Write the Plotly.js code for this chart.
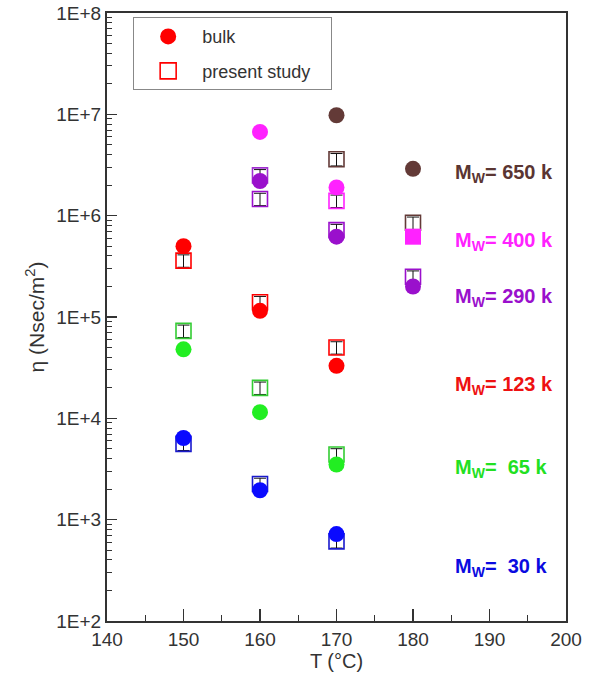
<!DOCTYPE html>
<html>
<head>
<meta charset="utf-8">
<script src="https://cdn.plot.ly/plotly-3.0.1.min.js"></script>
<style>html,body{margin:0;padding:0;background:#fff;}#chart{width:595px;height:676px;}</style>
</head>
<body>
<div id="chart"></div>
<script>
// Temperatures (°C)
const T = [150, 160, 170, 180];

// Viscosity (Nsec/m^2); null = no point
const bulk650 = [null, null, 9.8e6, 2.9e6];
const study650 = [null, null, 3.6e6, 8.5e5];
const bulk400 = [null, 6.7e6, 1.9e6, 6.2e5];
const study400 = [null, 2.5e6, 1.4e6, null];
const bulk290 = [null, 2.2e6, 6.2e5, 2.0e5];
const study290 = [null, 1.46e6, 7.2e5, 2.5e5];
const bulk123 = [5.0e5, 1.15e5, 3.3e4, null];
const study123 = [3.6e5, 1.4e5, 5.0e4, null];
const bulk65 = [4.8e4, 1.15e4, 3.5e3, null];
const study65 = [7.3e4, 2.0e4, 4.4e3, null];
const bulk30 = [6.4e3, 1.95e3, 7.2e2, null];
const study30 = [5.6e3, 2.25e3, 6.1e2, null];

const seriesLabels = ['650 k', '400 k', '290 k', '123 k', ' 65 k', ' 30 k'];
const labelY = [2.6e6, 5.6e5, 1.55e5, 2.1e4, 3.2e3, 3.4e2];

const yTickVals = [1e2, 1e3, 1e4, 1e5, 1e6, 1e7, 1e8];
const yTickText = ['1E+2', '1E+3', '1E+4', '1E+5', '1E+6', '1E+7', '1E+8'];

const cBrown = '#633a37', cMag = '#ff22ff', cPur = '#9a10cc', cRed = '#ff0000', cGreen = '#22ee22', cBlue = '#0a0aff';
const labelColors = ['#5a3532', '#ff22ff', '#9a10cc', '#ee1111', '#22e022', '#0a0ae0'];

function studyTrace(y, color, lineColors) {
  return {
    x: T, y: y, type: 'scatter', mode: 'markers', showlegend: false, hoverinfo: 'x+y',
    marker: {symbol: 'square-open', size: 15, color: lineColors || color, line: {width: 1.6, color: lineColors || color}},
    error_y: {type: 'percent', value: 14, color: '#111', thickness: 1, width: 6}
  };
}
function bulkTrace(y, color, symbols) {
  return {
    x: T, y: y, type: 'scatter', mode: 'markers', showlegend: false, hoverinfo: 'x+y',
    marker: {symbol: symbols || 'circle', size: 16, color: color, line: {width: 0}}
  };
}

const traces = [
  studyTrace(study650, cBrown),
  studyTrace(study400, cMag, [cMag, '#a030d0', cMag, cMag]),
  studyTrace(study290, cPur),
  studyTrace(study123, cRed),
  studyTrace(study65, '#33cc33'),
  studyTrace(study30, '#1a1acc'),
  bulkTrace(bulk650, cBrown),
  bulkTrace(bulk400, cMag, ['circle', 'circle', 'circle', 'square']),
  bulkTrace(bulk290, cPur),
  bulkTrace(bulk123, cRed),
  bulkTrace(bulk65, cGreen),
  bulkTrace(bulk30, cBlue),
  // legend entries
  {x: [null], y: [null], type: 'scatter', mode: 'markers', name: 'bulk', legendgroup: 'a',
   marker: {symbol: 'circle', size: 19, color: cRed}},
  {x: [null], y: [null], type: 'scatter', mode: 'markers', name: 'present study\u00a0\u00a0\u00a0', legendgroup: 'b',
   marker: {symbol: 'square-open', size: 18, color: cRed, line: {width: 1.6, color: cRed}}}
];

const annotations = seriesLabels.map((s, i) => ({
  x: 185.2, y: Math.log10(labelY[i]), xref: 'x', yref: 'y', xanchor: 'left', yanchor: 'middle',
  text: '<b>M<sub>W</sub>= ' + s + '</b>', showarrow: false,
  font: {family: 'Liberation Sans, Arial, sans-serif', size: 20, color: labelColors[i]}
}));

const layout = {
  width: 595, height: 676,
  margin: {l: 107, r: 29, t: 13, b: 55},
  paper_bgcolor: '#fff', plot_bgcolor: '#fff',
  font: {family: 'Liberation Sans, Arial, sans-serif', size: 18, color: '#333'},
  xaxis: {
    range: [140, 200], dtick: 10, tick0: 140, ticks: 'inside', ticklen: 12, tickwidth: 1.2, tickcolor: '#333',
    showline: true, linecolor: '#333', linewidth: 2, mirror: true, showgrid: false, zeroline: false,
    minor: {dtick: 5, ticks: 'inside', ticklen: 6, tickcolor: '#333', tickwidth: 1.2, showgrid: false},
    tickfont: {size: 19, color: '#333'},
    title: {text: 'T (°C)', font: {size: 20, color: '#333'}, standoff: 2}
  },
  yaxis: {
    type: 'log', range: [2, 8], tickmode: 'array', tickvals: yTickVals, ticktext: yTickText,
    ticks: 'inside', ticklen: 10, tickwidth: 1.2, tickcolor: '#333',
    showline: true, linecolor: '#333', linewidth: 2, mirror: true, showgrid: false, zeroline: false,
    minor: {dtick: 'D1', ticks: 'inside', ticklen: 5, tickcolor: '#333', tickwidth: 1, showgrid: false},
    tickfont: {size: 19, color: '#333'},
    title: {text: 'η (Nsec/m<sup>2</sup>)', font: {size: 21, color: '#333'}, standoff: 6}
  },
  legend: {
    x: 0.057, y: 0.993, xanchor: 'left', yanchor: 'top',
    bordercolor: '#888', borderwidth: 1, bgcolor: '#fff',
    font: {size: 18, color: '#333'}, itemwidth: 58, tracegroupgap: 8
  },
  annotations: annotations,
  showlegend: true
};

Plotly.newPlot('chart', traces, layout, {displayModeBar: false, staticPlot: true});
</script>
</body>
</html>
